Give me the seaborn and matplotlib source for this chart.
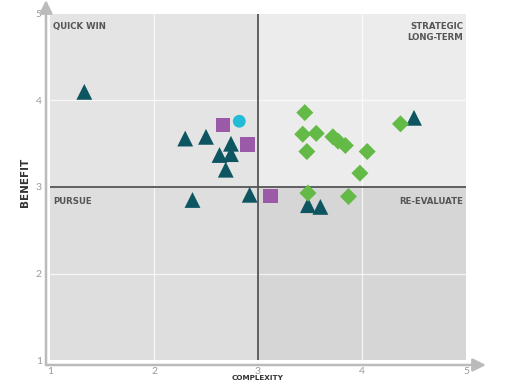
import pandas as pd
import matplotlib.pyplot as plt
import seaborn as sns
from matplotlib.patches import Rectangle

# --- Data ---
tri_x = [1.33, 2.30, 2.50, 2.74, 2.63, 2.74, 2.69, 2.37, 2.92, 3.48, 3.60, 4.50]
tri_y = [4.10, 3.56, 3.58, 3.50, 3.37, 3.38, 3.20, 2.85, 2.91, 2.79, 2.77, 3.80]

sq_x = [2.66, 2.90, 3.12]
sq_y = [3.72, 3.49, 2.90]

circ_x = [2.82]
circ_y = [3.76]

dia_x = [3.45, 3.43, 3.56, 3.47, 3.72, 3.77, 3.84, 4.05, 3.98, 4.37, 3.48, 3.87]
dia_y = [3.86, 3.61, 3.62, 3.41, 3.58, 3.53, 3.48, 3.41, 3.16, 3.73, 2.93, 2.89]

ticks = [1, 2, 3, 4, 5]
quadrant_labels = ["QUICK WIN", "STRATEGIC\nLONG-TERM", "PURSUE", "RE-EVALUATE"]

groups = ["triangle"] * len(tri_x) + ["square"] * len(sq_x) + ["circle"] * len(circ_x) + ["diamond"] * len(dia_x)
df = pd.DataFrame({
    "complexity": tri_x + sq_x + circ_x + dia_x,
    "benefit": tri_y + sq_y + circ_y + dia_y,
    "group": groups,
})

palette = {"triangle": "#0e5562", "square": "#9a5aa7", "circle": "#22bcd8", "diamond": "#63ba46"}
markers = {"triangle": "^", "square": "s", "circle": "o", "diamond": "D"}
sizes = {"triangle": 130, "square": 105, "circle": 85, "diamond": 75}

sns.set_theme(style="white")
plt.rcParams['font.family'] = ['Lato', 'DejaVu Sans']

fig = plt.figure(figsize=(5.1, 3.82), dpi=100)
W, H = 510, 382
ax = fig.add_axes([46 / W, (H - 365) / H, (486 - 46) / W, (365 - 0) / H])

# axis limits so that 1..5 lands where the reference puts it
ax.set_xlim(1 - 4 / 104, 1 + 436 / 104)
ax.set_ylim(1 - 5 / 86.5, 5 + 14 / 86.5)

# quadrant backgrounds
ax.add_patch(Rectangle((1, 3), 2, 2, color="#e4e4e4", zorder=0, lw=0))
ax.add_patch(Rectangle((3, 3), 2, 2, color="#ececec", zorder=0, lw=0))
ax.add_patch(Rectangle((1, 1), 2, 2, color="#dedede", zorder=0, lw=0))
ax.add_patch(Rectangle((3, 1), 2, 2, color="#d6d6d6", zorder=0, lw=0))

# faint white grid
ax.vlines([2, 4], 1, 5, color="white", lw=0.9, alpha=0.75, zorder=1)
ax.hlines([2, 4], 1, 5, color="white", lw=0.9, alpha=0.75, zorder=1)
# quadrant dividers
ax.vlines(3, 1, 5, color="#555555", lw=1.3, zorder=2)
ax.hlines(3, 1, 5, color="#555555", lw=1.3, zorder=2)

for g in ["triangle", "square", "circle", "diamond"]:
    sub = df[df["group"] == g]
    sns.scatterplot(data=sub, x="complexity", y="benefit", ax=ax,
                    color=palette[g], marker=markers[g], s=sizes[g],
                    edgecolor="none", linewidth=0, zorder=3, legend=False)

# quadrant labels
lab_kw = dict(fontsize=6.2, fontweight="bold", color="#555555", zorder=4, family="DejaVu Sans")
ax.text(1.03, 4.91, quadrant_labels[0], ha="left", va="top", **lab_kw)
ax.text(4.97, 4.91, quadrant_labels[1], ha="right", va="top", linespacing=1.3, **lab_kw)
ax.text(1.03, 2.88, quadrant_labels[2], ha="left", va="top", **lab_kw)
ax.text(4.97, 2.88, quadrant_labels[3], ha="right", va="top", **lab_kw)

# axes as arrows
for s in ax.spines.values():
    s.set_visible(False)
arrow = dict(arrowstyle="-|>,head_width=0.32,head_length=0.65", color="#bbbbbb", lw=1.8,
             shrinkA=0, shrinkB=0)
ax.annotate("", xy=(1, 0), xytext=(0, 0), xycoords="axes fraction", arrowprops=arrow)
ax.annotate("", xy=(0, 1), xytext=(0, 0), xycoords="axes fraction", arrowprops=arrow)

ax.set_xticks(ticks)
ax.set_yticks(ticks)
ax.tick_params(length=0, labelsize=7.5, labelcolor="#9a9a9a")
ax.tick_params(axis="x", pad=1.5)
ax.tick_params(axis="y", pad=3)

# x title sits at the very bottom edge, under the "3" tick
fig.text(258 / W, 1.2 / H, "COMPLEXITY", fontsize=5.2, fontweight="bold", color="#333333",
         family="DejaVu Sans", ha="center", va="bottom")
ax.set_ylabel("BENEFIT", fontsize=7.5, fontweight="bold", color="#333333",
              family="DejaVu Sans", labelpad=4)

fig.savefig("out.png", dpi=100, facecolor="white")
